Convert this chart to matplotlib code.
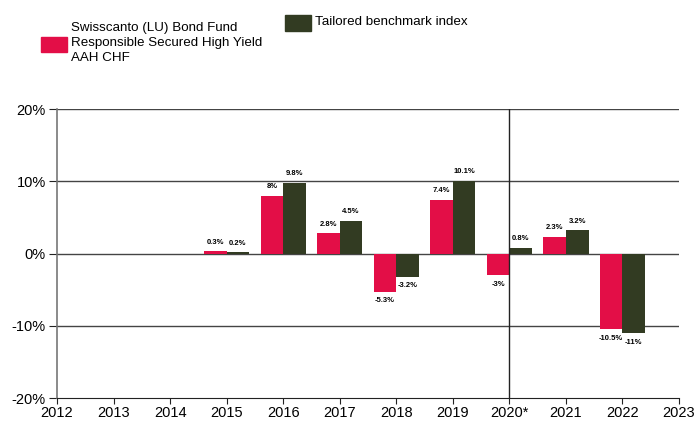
import numpy as np
import matplotlib
matplotlib.use("Agg")
import matplotlib.pyplot as plt
from matplotlib.patches import Rectangle

plt.rcParams['font.family'] = ['Liberation Sans', 'DejaVu Sans']

# data
years = [2013, 2014, 2015, 2016, 2017, 2018, 2019, 2020, 2021, 2022]
fund = [0.0, 0.0, 0.3, 8.0, 2.8, -5.3, 7.4, -3.0, 2.3, -10.5]
bench = [np.nan, np.nan, 0.2, 9.8, 4.5, -3.2, 10.1, 0.8, 3.2, -11.0]
fund_labels = ['', '', '0.3%', '8%', '2.8%', '-5.3%', '7.4%', '-3%', '2.3%', '-10.5%']
bench_labels = ['', '', '0.2%', '9.8%', '4.5%', '-3.2%', '10.1%', '0.8%', '3.2%', '-11%']
xtick_years = list(range(2012, 2024))
xtick_labels = [str(y) if y != 2020 else '2020*' for y in xtick_years]
yticks = [-20, -10, 0, 10, 20]

red = '#E30E47'
green = '#323B22'

fig = plt.figure(figsize=(6.95, 4.25), dpi=100)
ax = fig.add_axes([0.082, 0.0635, 0.895, 0.68])

w = 0.4
x = np.array(years, dtype=float)
b1 = ax.bar(x - w / 2, fund, width=w, color=red, zorder=3)
b2 = ax.bar(x + w / 2, bench, width=w, color=green, zorder=3)

# value labels: above positive bars, below negative ones
for bars, labels in ((b1, fund_labels), (b2, bench_labels)):
    for rect, lab in zip(bars, labels):
        if not lab:
            continue
        h = rect.get_height()
        cx = rect.get_x() + rect.get_width() / 2
        if h >= 0:
            ax.annotate(lab, (cx, h), xytext=(0, 4), textcoords='offset points',
                        ha='center', va='bottom', fontsize=5.5, fontweight='bold')
        else:
            ax.annotate(lab, (cx, h), xytext=(0, -4), textcoords='offset points',
                        ha='center', va='top', fontsize=5.5, fontweight='bold')

ax.set_xlim(2012, 2023)
ax.set_ylim(-20, 20)
ax.set_yticks(yticks)
ax.set_yticklabels([f'{v}%' for v in yticks], fontsize=10.5)
ax.set_xticks(xtick_years)
ax.set_xticklabels(xtick_labels, fontsize=10.5)

for v in yticks[1:]:
    ax.axhline(v, color='#444444', lw=1, zorder=1)
ax.axvline(2020, color='#222222', lw=1, zorder=4)

for s in ('top', 'right'):
    ax.spines[s].set_visible(False)
ax.spines['left'].set_color('#777777')
ax.spines['left'].set_linewidth(1.2)
ax.spines['bottom'].set_color('#222222')
ax.tick_params(axis='x', length=4, width=0.8, color='#222222', pad=2)
ax.tick_params(axis='y', length=6, width=0.8, color='#222222', pad=2)

# legend drawn by hand
fig.patches.append(Rectangle((41 / 695, 1 - 52 / 425), 26 / 695, 15 / 425,
                             transform=fig.transFigure, color=red))
fig.text(71 / 695, 1 - 43 / 425,
         'Swisscanto (LU) Bond Fund\nResponsible Secured High Yield\nAAH CHF',
         fontsize=9.6, va='center', ha='left', linespacing=1.38)
fig.patches.append(Rectangle((285 / 695, 1 - 31 / 425), 26 / 695, 16 / 425,
                             transform=fig.transFigure, color=green))
fig.text(315 / 695, 1 - 22 / 425, 'Tailored benchmark index',
         fontsize=9.6, va='center', ha='left')

fig.savefig('out.png', dpi=100)
